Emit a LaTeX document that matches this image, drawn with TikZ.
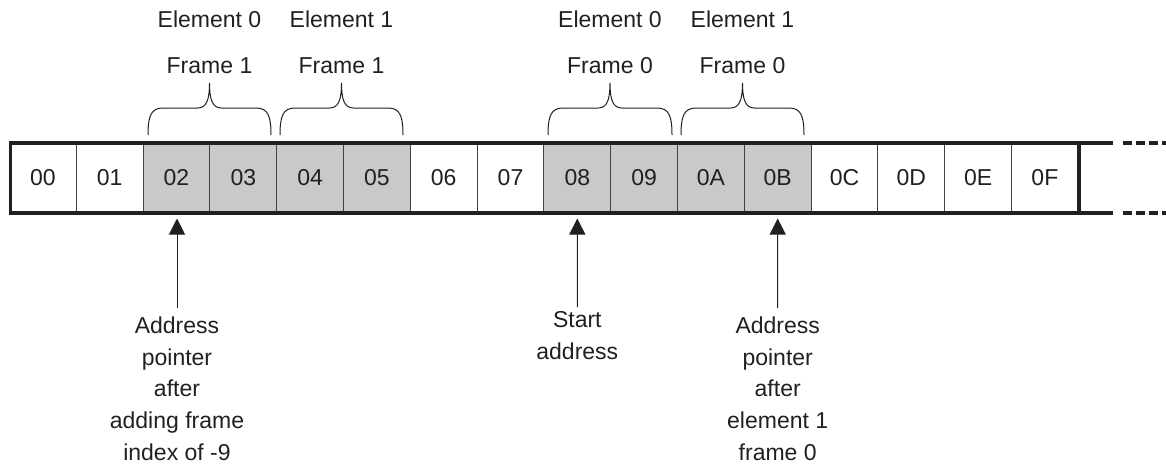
\documentclass[tikz,border=0pt]{standalone}
\usepackage{fontspec}
\setmainfont{Liberation Sans}
\usetikzlibrary{arrows.meta,calc}
\definecolor{ink}{HTML}{231F20}
\definecolor{shade}{HTML}{C8C9CB}
\begin{document}
\begin{tikzpicture}[x=1pt,y=-1pt,
  font=\fontsize{23}{31.7}\selectfont,
  cell/.style={draw=ink!85,line width=1pt,minimum width=66.8pt,minimum height=70pt,inner sep=0pt,text=ink,anchor=center},
  frame/.style={draw=ink,line width=3.6pt},
  brc/.style={draw=ink,line width=1pt},
  lbl/.style={text=ink,inner sep=0pt,anchor=base},
  note/.style={text=ink,inner sep=0pt,anchor=north,align=center},
  ptr/.style={draw=ink,line width=1pt,-{Triangle[length=16pt,width=16pt]}}]
\useasboundingbox (0,0) rectangle (1166,466);
% cells
\foreach \i/\t/\f in {0/00/white,1/01/white,2/02/shade,3/03/shade,4/04/shade,5/05/shade,6/06/white,7/07/white,8/08/shade,9/09/shade,10/0A/shade,11/0B/shade,12/0C/white,13/0D/white,14/0E/white,15/0F/white}
  \node[cell,fill=\f] (c\i) at ({42.9+66.8*\i},178) {\t};
% outer frame
\draw[frame,line join=miter] (1113,143) -- (10.5,143) -- (10.5,213) -- (1113,213);
\draw[frame] (1079,143) -- (1079,213);
\draw[frame,dash pattern=on 9pt off 4pt] (1123,143) -- (1166,143);
\draw[frame,dash pattern=on 9pt off 4pt] (1123,213) -- (1166,213);
% braces
\foreach \a/\b in {148/271,280/403,548/672,681/804}{
  \pgfmathsetmacro\m{(\a+\b)/2}
  \draw[brc] (\a,135) .. controls (\a,116) and (\a+3,108) .. (\a+15,108)
    -- (\m-12,108) .. controls (\m-3,108) and (\m,100) .. (\m,83)
    .. controls (\m,100) and (\m+3,108) .. (\m+12,108)
    -- (\b-15,108) .. controls (\b-3,108) and (\b,116) .. (\b,135);
}
% brace texts
\node[lbl] (e0a) at (209.5,27) {Element 0};
\node[lbl] (e1a) at (341.5,27) {Element 1};
\node[lbl] (f1a) at (209.5,73) {Frame 1};
\node[lbl] (f1b) at (341.5,73) {Frame 1};
\node[lbl] (e0b) at (610,27) {Element 0};
\node[lbl] (e1b) at (742.5,27) {Element 1};
\node[lbl] (f0a) at (610,73) {Frame 0};
\node[lbl] (f0b) at (742.5,73) {Frame 0};
% pointer labels
\node[note] (p1) at (177,316.5) {Address\\pointer\\after\\adding frame\\index of -9};
\node[note] (p2) at (577.3,311.5) {Start\\address};
\node[note] (p3) at (777.7,316.5) {Address\\pointer\\after\\element 1\\frame 0};
% arrows
\draw[ptr,shorten <=8.5pt,shorten >=5pt] (p1.north) -- (p1.north |- c2.south);
\draw[ptr,shorten <=4.5pt,shorten >=5pt] (p2.north) -- (c8.south);
\draw[ptr,shorten <=8.5pt,shorten >=5pt] (p3.north) -- (c11.south);
\end{tikzpicture}
\end{document}
